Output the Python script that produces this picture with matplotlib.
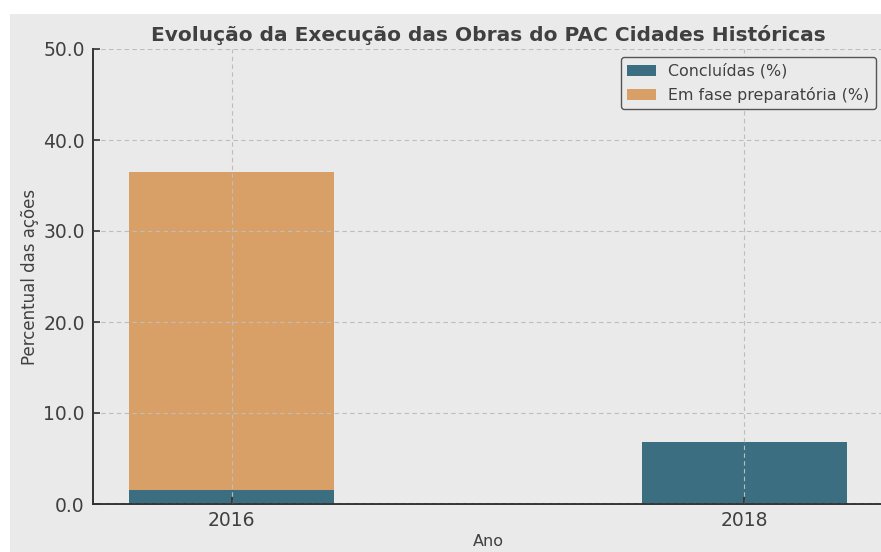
import matplotlib
matplotlib.use("Agg")
import matplotlib.pyplot as plt
from matplotlib.patches import Rectangle
import numpy as np

plt.rcParams["font.family"] = ["DejaVu Sans"]

anos = ["2016", "2018"]
concluidas = [1.5, 6.8]
preparatoria = [35.0, 0.0]
yticks = [0, 10, 20, 30, 40, 50]

W, H = 881, 552
fig = plt.figure(figsize=(W / 100, H / 100), dpi=100)
fig.patch.set_facecolor("white")
bg = "#eaeaea"
fig.patches.append(Rectangle((10 / W, 0), 1, (H - 14) / H, transform=fig.transFigure,
                             facecolor=bg, edgecolor="none", zorder=-10))

ax = fig.add_axes([93 / W, (H - 504) / H, (883 - 93) / W, (504 - 49) / H])
ax.set_facecolor(bg)
x = np.arange(len(anos))
c1 = "#3b6e80"
c2 = "#d8a066"
ax.bar(x, concluidas, width=0.4, color=c1, label="Concluídas (%)", zorder=2)
ax.bar(x, preparatoria, width=0.4, bottom=concluidas, color=c2,
       label="Em fase preparatória (%)", zorder=2)
ax.set_xlim(-0.27, 1.27)
ax.set_ylim(0, 50)
ax.set_xticks(x)
ax.set_xticklabels(anos)
ax.set_yticks(yticks)
ax.set_yticklabels([f"{v:.1f}" for v in yticks])
txt = "#404040"
ax.tick_params(axis="both", direction="in", labelsize=13.5, colors="#333333",
               labelcolor=txt, length=5, width=1.2, pad=6)
ax.tick_params(axis="x", pad=5)
ax.grid(True, linestyle=(0, (4, 3)), color="#bdbdbd", linewidth=0.8, zorder=1)
ax.set_axisbelow(False)
for s in ["top", "right"]:
    ax.spines[s].set_visible(False)
for s in ["left", "bottom"]:
    ax.spines[s].set_color("#333333")
    ax.spines[s].set_linewidth(1.4)
ax.set_xlabel("Ano", fontsize=11.5, color=txt, labelpad=3)
ax.set_ylabel("Percentual das ações", fontsize=12, color=txt, labelpad=3)
ax.set_title("Evolução da Execução das Obras do PAC Cidades Históricas",
             fontsize=14.5, fontweight="bold", color=txt, pad=6)
ax_w = 883 - 93
ax_h = 504 - 49
leg = ax.legend(loc="upper right", bbox_to_anchor=((876 - 93) / ax_w, (504 - 57) / ax_h),
                borderaxespad=0, fontsize=11.4, facecolor=bg, edgecolor="#555555",
                framealpha=1, labelcolor=txt, handlelength=1.8)
leg.get_frame().set_linewidth(1.0)
fig.savefig("out.png", dpi=100)
